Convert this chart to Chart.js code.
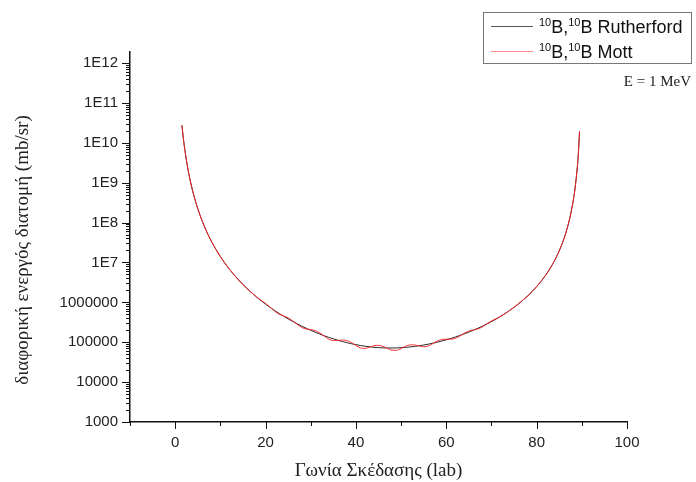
<!DOCTYPE html>
<html>
<head>
<meta charset="utf-8">
<script src="https://cdn.jsdelivr.net/npm/chart.js@4.4.1/dist/chart.umd.min.js"></script>
<style>
html,body{margin:0;padding:0;background:#fff;}
canvas{display:block;}
</style>
</head>
<body>
<canvas id="c" width="696" height="482"></canvas>
<script>
// Scattering angle in the lab frame (degrees)
const angles = [1.5,1.75,2,2.5,3,3.5,4,5,6,7,8,10,12,15,18,
  20,21,22,23,24,25,26,27,28,29,30,31,32,33,34,35,36,37,38,39,40,
  41,42,43,44,45,46,47,48,49,50,51,52,53,54,55,56,57,58,59,60,
  61,62,63,64,65,66,67,68,69,70,
  72,75,78,80,82,83,84,85,86,86.5,87,87.5,88,88.25,88.5,89,89.25,89.5];

// Differential cross section (mb/sr), Rutherford
const rutherford = [2.76e10,1.49e10,8.73e9,3.58e9,1.725e9,9.31e8,5.46e8,2.24e8,1.08e8,5.83e7,3.42e7,1.405e7,6.80e6,2.80e6,1.367e6,
  905600,749500,626400,528400,449600,385600,333300,290200,254400,224600,199500,178500,160600,145500,132600,121700,112300,104300,97570,91830,86990,
  82950,79620,76940,74850,73310,72290,71750,71690,72100,72990,74360,76230,78630,81600,85190,89460,94490,100400,107200,115200,
  124500,135300,147900,162600,179800,200200,224300,253100,287700,329600,
  444100,751400,1.445e6,2.478e6,4.81e6,7.16e6,1.135e7,1.958e7,3.82e7,5.70e7,9.04e7,1.562e8,3.05e8,4.55e8,7.23e8,2.44e9,5.78e9,1.95e10];

// Differential cross section (mb/sr), Mott
const mott = [2.76e10,1.49e10,8.73e9,3.58e9,1.725e9,9.31e8,5.46e8,2.24e8,1.08e8,5.83e7,3.42e7,1.405e7,6.80e6,2.80e6,1.367e6,
  939300,758000,602500,507500,456200,408200,345400,280700,235400,215100,207100,194600,170800,141900,119400,110000,111000,113600,109900,98030,83040,
  72220,70010,75110,81740,83790,78940,70040,63040,62780,69680,79380,85820,85610,80640,76990,80510,92130,106700,116900,119600,
  119200,125200,143000,168500,190400,203100,215400,243500,291000,341900,
  444100,751400,1.445e6,2.478e6,4.81e6,7.16e6,1.135e7,1.958e7,3.82e7,5.70e7,9.04e7,1.562e8,3.05e8,4.55e8,7.23e8,2.44e9,5.78e9,1.95e10];

const xMajorTicks = [0,20,40,60,80,100];
const xMinorTicks = [-10,10,30,50,70,90];
const yExponents = [3,4,5,6,7,8,9,10,11,12];
const seriesLabels = ["^10B,^10B Rutherford","^10B,^10B Mott"];
const xTitle = "Γωνία Σκέδασης (lab)";
const yTitle = "διαφορική ενεργός διατομή (mb/sr)";
const noteText = "E = 1 MeV";

const SANS = "'Liberation Sans', Arial, sans-serif";
const SERIF = "'Liberation Serif', 'Times New Roman', serif";

function fmtY(v){
  const e = Math.round(Math.log10(v));
  return e < 7 ? String(Math.pow(10,e)) : "1E" + e;
}

function drawSupText(ctx, str, x, y, size){
  const parts = str.split(/(\^\d+)/).filter(s=>s.length);
  let cx = x;
  for(const p of parts){
    if(p[0]==='^'){
      ctx.font = Math.round(size*0.62) + "px " + SANS;
      ctx.fillText(p.slice(1), cx, y - size*0.36);
      cx += ctx.measureText(p.slice(1)).width;
    } else {
      ctx.font = size + "px " + SANS;
      ctx.fillText(p, cx, y);
      cx += ctx.measureText(p).width;
    }
  }
}

const decor = {
  id:'decor',
  afterDraw(chart){
    const ctx = chart.ctx;
    const xs = chart.scales.x, ys = chart.scales.y;
    const ca = chart.chartArea;
    ctx.save();
    ctx.strokeStyle = '#111';
    ctx.lineWidth = 1;
    for(const e of yExponents){
      const v = Math.pow(10,e);
      let py = Math.round(ys.getPixelForValue(v)) + 0.5;
      ctx.beginPath(); ctx.moveTo(ca.left-8, py); ctx.lineTo(ca.left, py); ctx.stroke();
      for(let k=2;k<=9;k++){
        const mv = k*v;
        if(mv > ys.max) break;
        py = Math.round(ys.getPixelForValue(mv)) + 0.5;
        ctx.beginPath(); ctx.moveTo(ca.left-4, py); ctx.lineTo(ca.left, py); ctx.stroke();
      }
    }
    for(const t of xMajorTicks){
      const px = Math.round(xs.getPixelForValue(t)) + 0.5;
      ctx.beginPath(); ctx.moveTo(px, ca.bottom); ctx.lineTo(px, ca.bottom+7); ctx.stroke();
    }
    for(const t of xMinorTicks){
      const px = Math.round(xs.getPixelForValue(t)) + 0.5;
      ctx.beginPath(); ctx.moveTo(px, ca.bottom); ctx.lineTo(px, ca.bottom+4); ctx.stroke();
    }
    // axis titles
    ctx.fillStyle = '#222';
    ctx.font = "19px " + SERIF;
    ctx.textAlign = 'center';
    ctx.textBaseline = 'alphabetic';
    ctx.fillText(xTitle, (ca.left+ca.right)/2, 476);
    ctx.save();
    ctx.translate(28, 250);
    ctx.rotate(-Math.PI/2);
    ctx.fillText(yTitle, 0, 0);
    ctx.restore();
    // legend
    ctx.strokeStyle = '#777';
    ctx.lineWidth = 1;
    ctx.strokeRect(483.5, 12.5, 208, 51);
    const rows = [26.5, 51.5];
    chart.data.datasets.forEach((ds,i)=>{
      ctx.strokeStyle = ds.legendColor;
      ctx.lineWidth = 1;
      ctx.beginPath(); ctx.moveTo(491, rows[i]); ctx.lineTo(533, rows[i]); ctx.stroke();
      ctx.fillStyle = '#111';
      ctx.textAlign = 'left';
      ctx.textBaseline = 'alphabetic';
      drawSupText(ctx, ds.label, 539, rows[i]+6, 18);
    });
    // note
    ctx.fillStyle = '#222';
    ctx.font = "15px " + SERIF;
    ctx.textAlign = 'right';
    ctx.textBaseline = 'alphabetic';
    ctx.fillText(noteText, 691, 86);
    ctx.restore();
  }
};

new Chart(document.getElementById('c'), {
  type:'line',
  data:{
    labels: angles,
    datasets:[
      {label: seriesLabels[0], data: angles.map((a,i)=>({x:a, y:rutherford[i]})),
       borderColor:'#2a2a2a', legendColor:'#555', borderWidth:1, pointRadius:0, order:1,
       cubicInterpolationMode:'monotone'},
      {label: seriesLabels[1], data: angles.map((a,i)=>({x:a, y:mott[i]})),
       borderColor:'rgba(255,30,30,0.9)', legendColor:'#ff8a8a', borderWidth:1, pointRadius:0, order:0,
       cubicInterpolationMode:'monotone'}
    ]
  },
  options:{
    responsive:false,
    animation:false,
    devicePixelRatio:1,
    layout:{padding:{top:52,right:69,left:0,bottom:0}},
    plugins:{legend:{display:false}, tooltip:{enabled:false}},
    scales:{
      x:{
        type:'linear', min:-10, max:100,
        grid:{display:false, drawTicks:false},
        border:{display:true, color:'#111', width:1.5},
        afterBuildTicks(s){ s.ticks = xMajorTicks.map(v=>({value:v})); },
        afterFit(s){ s.height = 60; },
        ticks:{color:'#222', font:{family:SANS, size:15}, padding:12, maxRotation:0, autoSkip:false}
      },
      y:{
        type:'logarithmic', min:1000, max:1.9e12,
        grid:{display:false, drawTicks:false},
        border:{display:true, color:'#111', width:1.5},
        afterBuildTicks(s){ s.ticks = yExponents.map(e=>({value:Math.pow(10,e)})); },
        afterFit(s){ s.width = 130; },
        ticks:{color:'#222', font:{family:SANS, size:15}, padding:12, autoSkip:false,
          callback:(v)=>fmtY(v)}
      }
    }
  },
  plugins:[decor]
});
</script>
</body>
</html>
